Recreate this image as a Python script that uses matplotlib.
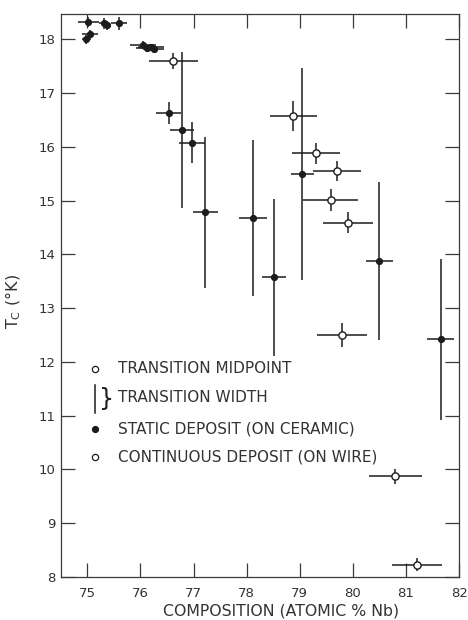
#!/usr/bin/env python3
"""Tc vs. composition for Nb-Sn deposits: static (on ceramic) vs continuous (on wire)."""

import matplotlib
matplotlib.use("Agg")
import matplotlib.pyplot as plt

# static deposits (on ceramic) -- filled markers
static_x = [75.02, 75.05, 74.98, 75.31, 75.36, 75.60, 76.05, 76.12, 76.20, 76.25,
            76.53, 76.78, 76.97, 77.22, 78.12, 78.51, 79.05, 80.50, 81.65]
static_tc = [18.32, 18.10, 18.00, 18.30, 18.26, 18.30, 17.90, 17.83, 17.86, 17.82,
             16.63, 16.32, 16.08, 14.78, 14.68, 13.57, 15.50, 13.88, 12.42]
static_xerr = [0.19, 0.15, 0.08, 0.10, 0.08, 0.15, 0.25, 0.20, 0.25, 0.20,
               0.23, 0.23, 0.24, 0.24, 0.26, 0.23, 0.21, 0.26, 0.25]
static_width = [0.10, 0.08, 0.08, 0.10, 0.08, 0.12, 0.06, 0.06, 0.06, 0.06,
                0.20, 1.45, 0.39, 1.40, 1.45, 1.46, 1.97, 1.47, 1.50]

# continuous deposits (on wire) -- open markers
wire_x = [76.62, 78.88, 79.31, 79.70, 79.58, 79.90, 79.80, 80.80, 81.21]
wire_tc = [17.59, 16.57, 15.88, 15.55, 15.01, 14.59, 12.50, 9.87, 8.23]
wire_xerr = [0.46, 0.45, 0.45, 0.45, 0.52, 0.47, 0.47, 0.50, 0.47]
wire_width = [0.15, 0.28, 0.20, 0.18, 0.20, 0.20, 0.22, 0.14, 0.12]

x_ticks = [75, 76, 77, 78, 79, 80, 81, 82]
y_ticks = [8, 9, 10, 11, 12, 13, 14, 15, 16, 17, 18]

legend_rows = ["TRANSITION MIDPOINT", "TRANSITION WIDTH",
               "STATIC DEPOSIT (ON CERAMIC)", "CONTINUOUS DEPOSIT (ON WIRE)"]

INK = "#1c1c1c"
AXIS = "#3a3a3a"
TEXT = "#333333"

plt.rcParams["font.family"] = ["DejaVu Sans"]

fig = plt.figure(figsize=(4.68, 6.2), dpi=100)
ax = fig.add_axes([0.130, 0.0694, 0.851, 0.908])

ax.errorbar(static_x, static_tc, xerr=static_xerr, yerr=static_width,
            fmt="o", ms=4.2, mfc=INK, mec=INK, ecolor=INK, elinewidth=1.1,
            capsize=0, zorder=3)
ax.errorbar(wire_x, wire_tc, xerr=wire_xerr, yerr=wire_width,
            fmt="o", ms=5.2, mfc="white", mec=INK, mew=1.0, ecolor=INK,
            elinewidth=1.1, capsize=0, zorder=4)

ax.set_xlim(74.5, 82)
ax.set_ylim(8, 18.47)
ax.set_xticks(x_ticks)
ax.set_yticks(y_ticks)
ax.set_xticklabels([str(v) for v in x_ticks])
ax.set_yticklabels([str(v) for v in y_ticks])
ax.tick_params(direction="in", length=10, width=0.9, color=AXIS,
               labelsize=9.5, labelcolor=TEXT, top=True, right=True)
ax.tick_params(axis="x", pad=7)
ax.tick_params(axis="y", pad=4)
for side in ax.spines.values():
    side.set_color(AXIS)
    side.set_linewidth(0.9)

ax.set_xlabel("COMPOSITION (ATOMIC % Nb)", fontsize=11.3, color=TEXT)
ax.xaxis.set_label_coords(0.553, -0.048)
ax.set_ylabel("T$_\\mathregular{C}$ (°K)", fontsize=11.5, color=TEXT)
ax.yaxis.set_label_coords(-0.095, 0.49)

# hand-drawn key
key_x, text_x = 75.15, 75.58
row_y = [11.87, 11.33, 10.76, 10.23]
ax.plot([key_x], [row_y[0]], "o", ms=4.5, mfc="white", mec=INK, mew=0.9)
ax.plot([key_x, key_x], [row_y[1] - 0.28, row_y[1] + 0.24], color=INK, lw=1.1)
ax.text(key_x + 0.06, row_y[1] - 0.02, "}", fontsize=17, color=INK,
        ha="left", va="center")
ax.plot([key_x], [row_y[2]], "o", ms=4.2, mfc=INK, mec=INK)
ax.plot([key_x], [row_y[3]], "o", ms=4.5, mfc="white", mec=INK, mew=0.9)
for y, label in zip(row_y, legend_rows):
    ax.text(text_x, y, label, fontsize=11, color=TEXT, ha="left", va="center")

fig.savefig("out.png", dpi=100)
